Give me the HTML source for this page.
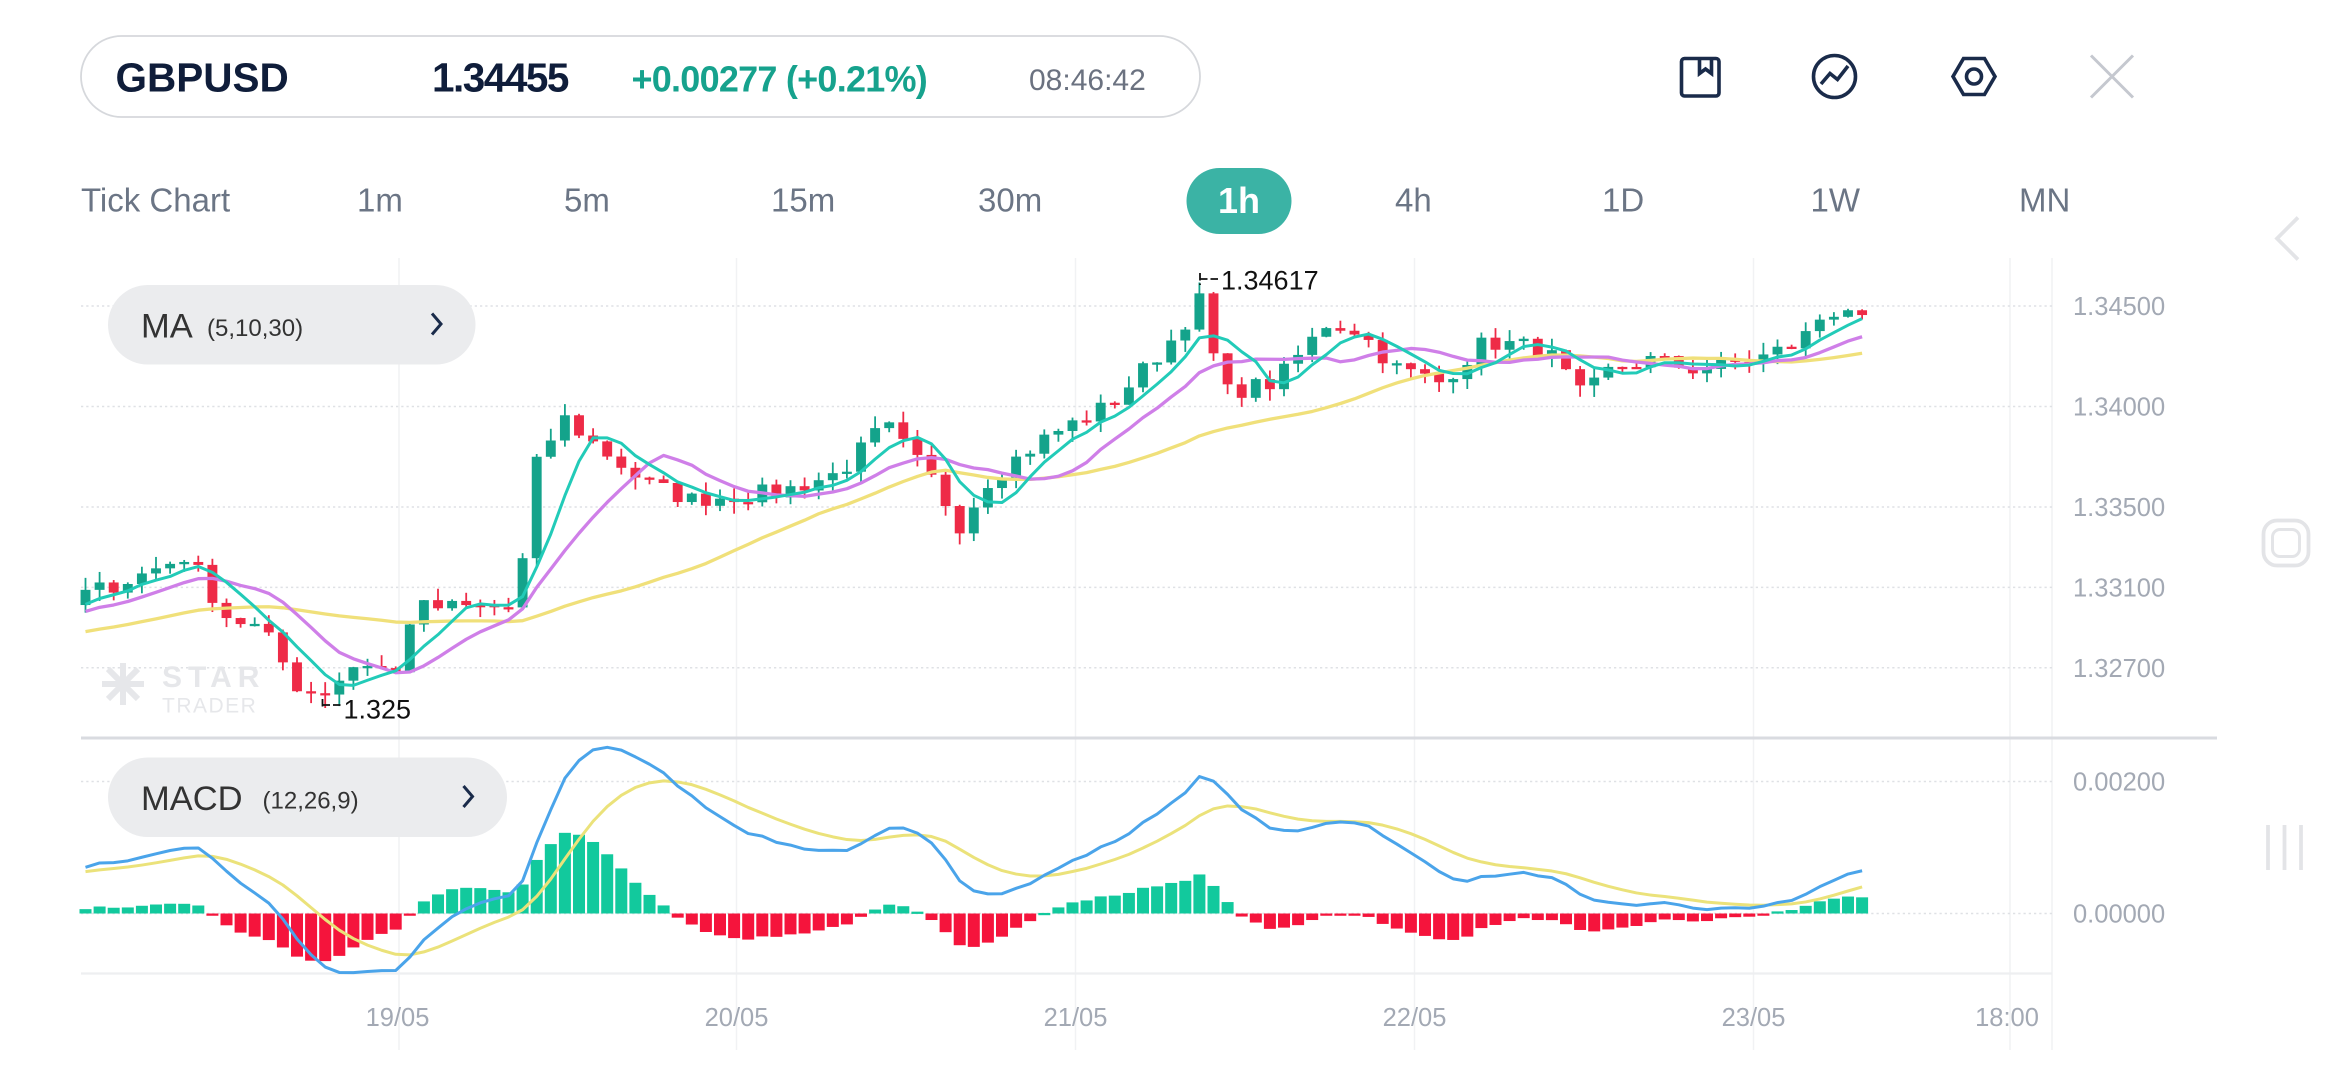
<!DOCTYPE html>
<html><head><meta charset="utf-8">
<style>
html,body{margin:0;padding:0;background:#fff;width:2340px;height:1080px;overflow:hidden}
svg{display:block}
text{font-family:"Liberation Sans",sans-serif}
</style></head>
<body>
<svg id="s" width="2340" height="1080" viewBox="0 0 1560 720" xmlns="http://www.w3.org/2000/svg">
<rect width="1560" height="720" fill="#fff"/>
<rect x="54" y="24" width="746" height="54" rx="27" fill="#fff" stroke="#d6d8dc" stroke-width="1.2"/>
<text x="77" y="61" font-size="27" font-weight="bold" fill="#0f1d3a">GBPUSD</text>
<text x="288" y="61" font-size="27" font-weight="bold" fill="#0f1d3a" letter-spacing="-1">1.34455</text>
<text x="421" y="61" font-size="24" font-weight="bold" fill="#16a28d" letter-spacing="-0.5">+0.00277 (+0.21%)</text>
<text x="686" y="60" font-size="20" fill="#6b7280">08:46:42</text>
<g fill="none" stroke="#1a2b4a" stroke-width="2.4">
<rect x="1121" y="39" width="25" height="25" rx="2"/><path d="M1133 39v10l4-3 4 3v-10"/>
<circle cx="1223" cy="51" r="14"/><path d="M1214 56l6-7 5 4 7-9"/>
<path d="M1309 39h14l7 12-7 12h-14l-7-12z"/><circle cx="1316" cy="51" r="5"/>
</g>
<path d="M1394 37l28 28M1422 37l-28 28" stroke="#c5c8cf" stroke-width="2"/>
<g font-size="22" fill="#6b7585">
<text x="54" y="141">Tick Chart</text><text x="238" y="141">1m</text><text x="376" y="141">5m</text>
<text x="514" y="141">15m</text><text x="652" y="141">30m</text><text x="930" y="141">4h</text>
<text x="1068" y="141">1D</text><text x="1207" y="141">1W</text><text x="1346" y="141">MN</text>
</g>
<rect x="791" y="112" width="70" height="44" rx="22" fill="#3bb3a5"/>
<text x="826" y="142" font-size="24" font-weight="bold" fill="#fff" text-anchor="middle">1h</text>
<path d="M1532 145l-14 14 14 14" fill="none" stroke="#e3e4e7" stroke-width="2.5"/>
<rect x="1509" y="347" width="30" height="30" rx="9" fill="none" stroke="#e3e4e7" stroke-width="2.5"/>
<rect x="1515" y="353" width="18" height="18" rx="5" fill="none" stroke="#e3e4e7" stroke-width="2"/>
<path d="M1512 550v30M1523 550v30M1534 550v30" stroke="#e3e4e7" stroke-width="2.5"/>
<g id="chart"></g>
</svg>
<script>
(function(){
var NS="http://www.w3.org/2000/svg",g=document.getElementById('chart');
function el(t,a,txt){var e=document.createElementNS(NS,t);for(var k in a)e.setAttribute(k,a[k]);if(txt!=null)e.textContent=txt;g.appendChild(e);return e;}
[266,491,717,943,1169,1340,1368].forEach(function(x){el('line',{x1:x,y1:172,x2:x,y2:700,stroke:'#f1f2f4','stroke-width':1});});
function PY(p){return 204+(1.345-p)*13400;}
var levels=[[1.345,'1.34500'],[1.34,'1.34000'],[1.335,'1.33500'],[1.331,'1.33100'],[1.327,'1.32700']];
levels.forEach(function(l){var y=PY(l[0]);el('line',{x1:54,y1:y,x2:1368,y2:y,stroke:'#dfe1e5','stroke-width':1,'stroke-dasharray':'1.5 2'});el('text',{x:1382,y:y+6,'font-size':17,fill:'#a3a9b4'},l[1]);});
el('line',{x1:54,y1:492,x2:1478,y2:492,stroke:'#d9dbe0','stroke-width':2});
function MY(v){return 609-v*44000;}
el('line',{x1:54,y1:521,x2:1368,y2:521,stroke:'#dfe1e5','stroke-dasharray':'1.5 2'});
el('line',{x1:54,y1:609,x2:1368,y2:609,stroke:'#dfe1e5','stroke-dasharray':'1.5 2'});
el('line',{x1:54,y1:649,x2:1368,y2:649,stroke:'#eeeff1','stroke-width':1.5});
el('text',{x:1382,y:527,'font-size':17,fill:'#a3a9b4'},'0.00200');
el('text',{x:1382,y:615,'font-size':17,fill:'#a3a9b4'},'0.00000');
[[265,'19/05'],[491,'20/05'],[717,'21/05'],[943,'22/05'],[1169,'23/05'],[1338,'18:00']].forEach(function(d){el('text',{x:d[0],y:684,'font-size':17,fill:'#a3a9b4','text-anchor':'middle'},d[1]);});
el('text',{x:108,y:458,'font-size':20,'font-weight':'bold',fill:'#e6e7ea','letter-spacing':4},'STAR');
el('text',{x:108,y:475,'font-size':14,fill:'#e6e7ea','letter-spacing':1},'TRADER');
el('path',{d:'M82 442v28M68 456h28M72 446l20 20M92 446l-20 20',stroke:'#e6e7ea','stroke-width':4});
var kp=[[54,397],[90,385],[125,370],[150,410],[175,420],[200,460],[215,462],[240,440],[265,450],[275,405],[300,405],[345,405],[355,315],[375,278],[395,295],[430,322],[460,333],[520,328],[560,315],[590,283],[620,318],[640,350],[660,318],[700,290],[740,270],[780,228],[800,200],[815,262],[850,255],[885,215],[905,220],[930,245],[960,255],[990,228],[1030,232],[1055,265],[1075,245],[1100,240],[1130,246],[1170,240],[1200,228],[1215,210],[1240,202],[1246,206]];
function interp(x){for(var i=1;i<kp.length;i++){if(x<=kp[i][0]){var a=kp[i-1],b=kp[i],t=(x-a[0])/(b[0]-a[0]);return a[1]+t*(b[1]-a[1]);}}return kp[kp.length-1][1];}
var seed=7;function rnd(){seed=(seed*16807)%2147483647;return seed/2147483647;}
var N=127,dx=9.4,x0=57,closes=[],pad=[];
for(var i=0;i<40;i++)pad.push(1.3262+i*0.0001+(rnd()-0.5)*0.0004);
for(var i=0;i<N;i++){var x=x0+i*dx;var p=1.345-(interp(x)-204)/13400;p+=(rnd()-0.5)*0.0009;if(i==N-1)p=1.34455;closes.push(p);}
var all=pad.concat(closes);
function sma(n){var r=[];for(var i=0;i<all.length;i++){var s=0;for(var j=i-n+1;j<=i;j++)s+=all[Math.max(j,0)];r.push(s/n);}return r.slice(pad.length);}
function ema(arr,n){var k=2/(n+1),r=[arr[0]];for(var i=1;i<arr.length;i++)r.push(arr[i]*k+r[i-1]*(1-k));return r;}
for(var i=0;i<N;i++){var x=x0+i*dx,c=closes[i],o=i?closes[i-1]:pad[pad.length-1];
 var h=Math.max(o,c)+rnd()*0.0006,l=Math.min(o,c)-rnd()*0.0006;
 if(Math.abs(x-800)<5)h=1.34617;if(Math.abs(x-215)<5)l=1.325;
 var col=c>=o?'#14a38b':'#ee2b47';
 el('line',{x1:x,y1:PY(h),x2:x,y2:PY(l),stroke:col,'stroke-width':1.2});
 var y1=PY(Math.max(o,c)),y2=PY(Math.min(o,c));el('rect',{x:x-3.3,y:y1,width:6.6,height:Math.max(y2-y1,1.5),fill:col});}
function line(arr,f,col,w){var d='';for(var i=0;i<arr.length;i++)d+=(i?'L':'M')+(x0+i*dx).toFixed(1)+' '+f(arr[i]).toFixed(1);el('path',{d:d,fill:'none',stroke:col,'stroke-width':w,'stroke-linejoin':'round'});}
line(sma(30),PY,'#f0e07a',2.2);line(sma(10),PY,'#cf7fe8',2.2);line(sma(5),PY,'#22cbb8',2);
el('path',{d:'M800 182v8M800 186h12',stroke:'#111','stroke-width':1.2,'stroke-dasharray':'5 2'});
el('text',{x:814,y:193,'font-size':18,fill:'#111'},'1.34617');
el('path',{d:'M215 466v6M215 470h14',stroke:'#111','stroke-width':1.2,'stroke-dasharray':'5 2'});
el('text',{x:229,y:479,'font-size':18,fill:'#111'},'1.325');
var e12=ema(all,12),e26=ema(all,26),m=[];for(var i=0;i<all.length;i++)m.push(e12[i]-e26[i]);
var sg=ema(m,9);m=m.slice(pad.length);sg=sg.slice(pad.length);
for(var i=0;i<N;i++){var x=x0+i*dx,h=m[i]-sg[i],y=MY(h);
 el('rect',{x:x-4,y:Math.min(y,609),width:8,height:Math.max(Math.abs(y-609),1.5),fill:h>=0?'#12c99d':'#f5143c'});}
line(sg,MY,'#ebe27a',2);line(m,MY,'#4aa4ea',2);
el('rect',{x:72,y:190,width:245,height:53,rx:26.5,fill:'#ebecee'});
el('text',{x:94,y:225,'font-size':23,fill:'#333'},'MA');
el('text',{x:138,y:224,'font-size':16,fill:'#333'},'(5,10,30)');
el('path',{d:'M288 209l6 7-6 7',fill:'none',stroke:'#1a2b4a','stroke-width':2});
el('rect',{x:72,y:505,width:266,height:53,rx:26.5,fill:'#ebecee'});
el('text',{x:94,y:540,'font-size':23,fill:'#333'},'MACD');
el('text',{x:175,y:539,'font-size':16,fill:'#333'},'(12,26,9)');
el('path',{d:'M309 524l6 7-6 7',fill:'none',stroke:'#1a2b4a','stroke-width':2});
})();
</script>
</body></html>
